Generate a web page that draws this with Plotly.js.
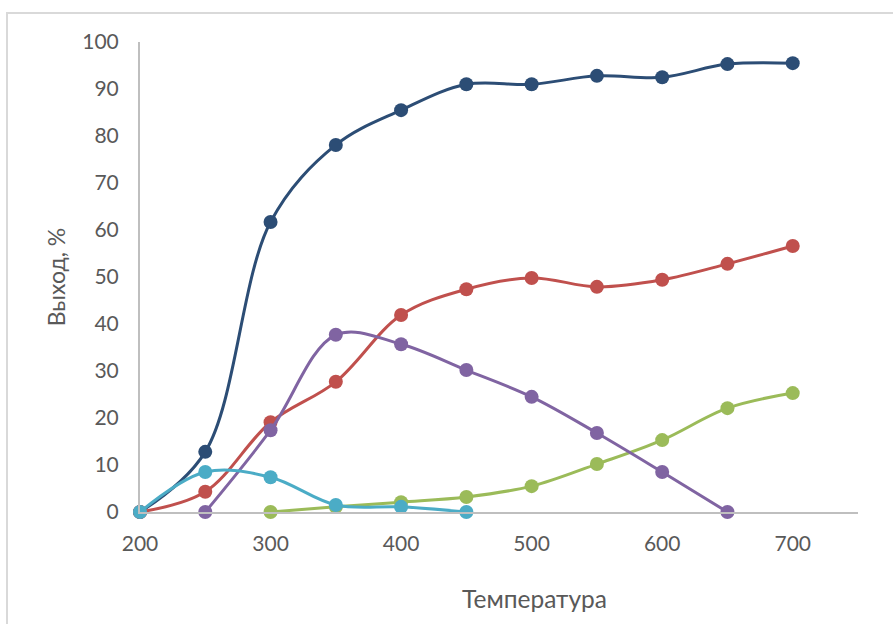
<!DOCTYPE html>
<html>
<head>
<meta charset="utf-8">
<script src="https://cdn.plot.ly/plotly-3.0.1.min.js"></script>
<style>
  html, body { margin: 0; padding: 0; background: #fff; overflow: hidden; }
  #frame { position: absolute; left: 6px; top: 12px; width: 920px; height: 700px;
           border: 2px solid #d9d9d9; box-sizing: border-box; }
  #chart { position: absolute; left: 0; top: 0; width: 893px; height: 624px; }
</style>
</head>
<body>
<div id="frame"></div>
<div id="chart"></div>
<script>
// Temperature points and yields (%) for each product series
const temps = [200, 250, 300, 350, 400, 450, 500, 550, 600, 650, 700];

const seriesBlue   = [0, 12.8, 61.7, 78.1, 85.5, 91.0, 91.0, 92.8, 92.5, 95.3, 95.5];
const seriesRed    = [0, 4.3, 19.1, 27.7, 41.9, 47.4, 49.8, 47.9, 49.4, 52.8, 56.6];
const tempsGreen   = [300, 350, 400, 450, 500, 550, 600, 650, 700];
const seriesGreen  = [0, 1.1, 2.1, 3.2, 5.5, 10.2, 15.3, 22.1, 25.3];
const tempsPurple  = [250, 300, 350, 400, 450, 500, 550, 600, 650];
const seriesPurple = [0, 17.4, 37.7, 35.7, 30.2, 24.5, 16.8, 8.5, 0];
const tempsCyan    = [200, 250, 300, 350, 400, 450];
const seriesCyan   = [0, 8.5, 7.4, 1.5, 1.1, 0];

const xTicks = [200, 300, 400, 500, 600, 700];
const yTicks = [0, 10, 20, 30, 40, 50, 60, 70, 80, 90, 100];

function series(x, y, color) {
  return {
    x: x, y: y, type: 'scatter', mode: 'lines+markers',
    line: { color: color, width: 3, shape: 'spline', smoothing: 1 },
    marker: { color: color, size: 14 },
    showlegend: false, cliponaxis: false
  };
}

const data = [
  series(temps, seriesBlue, '#2c4d75'),
  series(temps, seriesRed, '#c0504d'),
  series(tempsGreen, seriesGreen, '#9bbb59'),
  series(tempsPurple, seriesPurple, '#8064a2'),
  series(tempsCyan, seriesCyan, '#4bacc6')
];

const family = 'Lato, "Open Sans", sans-serif';
const grey = '#595959';

const layout = {
  width: 893, height: 624,
  margin: { l: 140, r: 35, t: 42, b: 112 },
  paper_bgcolor: 'rgba(0,0,0,0)', plot_bgcolor: 'rgba(0,0,0,0)',
  font: { family: family, color: grey },
  xaxis: {
    range: [200, 750], tickvals: xTicks, ticktext: xTicks.map(String),
    showgrid: false, zeroline: false,
    showline: true, linecolor: '#bfbfbf', linewidth: 2,
    ticks: '', ticklen: 0, ticklabelstandoff: 12,
    tickfont: { family: family, size: 21, color: grey }
  },
  yaxis: {
    range: [0, 100], tickvals: yTicks, ticktext: yTicks.map(String),
    showgrid: false, zeroline: false,
    showline: true, linecolor: '#bfbfbf', linewidth: 2,
    ticks: '', ticklen: 0, ticklabelstandoff: 15,
    tickfont: { family: family, size: 21, color: grey },
    title: { text: 'Выход, %', font: { family: family, size: 23, color: grey }, standoff: 10 }
  },
  // x-axis title, centred under the whole chart frame rather than the plot area
  annotations: [{
    text: 'Температура', xref: 'paper', yref: 'paper',
    x: 0.55, y: -0.183, xanchor: 'center', yanchor: 'middle',
    showarrow: false, font: { family: family, size: 24.5, color: grey }
  }]
};

Plotly.newPlot('chart', data, layout, { staticPlot: true, displayModeBar: false });
</script>
</body>
</html>
